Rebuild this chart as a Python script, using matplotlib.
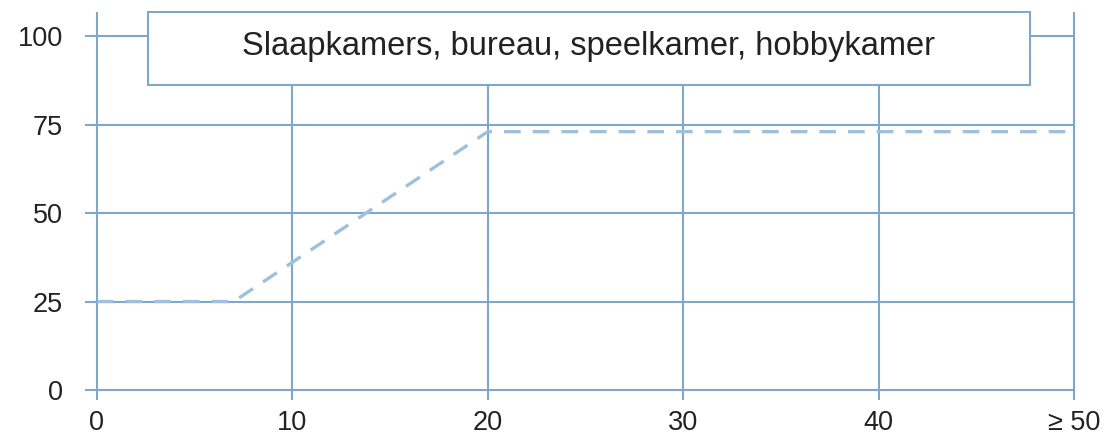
import matplotlib
matplotlib.use("Agg")
import matplotlib.pyplot as plt
from matplotlib.patches import Rectangle

# Data
x_vals = [0, 7, 20, 50]
y_vals = [25, 25, 73, 73]
x_ticks = [0, 10, 20, 30, 40, 50]
x_labels = ["0", "10", "20", "30", "40", "\u2265 50"]
y_ticks = [0, 25, 50, 75, 100]
y_labels = ["0", "25", "50", "75", "100"]
title = "Slaapkamers, bureau, speelkamer, hobbykamer"

grid_color = "#7ea7ca"
line_color = "#9fc0dd"
text_color = "#222222"

plt.rcParams["font.family"] = ["Liberation Sans", "DejaVu Sans"]

fig = plt.figure(figsize=(11.09, 4.40), dpi=100)
ax = fig.add_axes([0.0766, 0.0909, 0.8918, 0.8818])
ax.set_xlim(-0.614, 50)
ax.set_ylim(-2.82, 106.8)
for s in ax.spines.values():
    s.set_visible(False)

xmin, xmax = ax.get_xlim()
ymin, ymax = ax.get_ylim()
ax.hlines(y_ticks, xmin, xmax, colors=grid_color, linewidth=1.5, clip_on=False, zorder=1)
ax.vlines(x_ticks, ymin, ymax, colors=grid_color, linewidth=1.5, clip_on=False, zorder=1)

line, = ax.plot(x_vals, y_vals, color=line_color, linewidth=2.4, zorder=2, clip_on=False)
line.set_dashes((5.0, 3.6))

ax.set_xticks(x_ticks)
ax.set_xticklabels(x_labels)
ax.set_yticks(y_ticks)
ax.set_yticklabels(y_labels)
ax.tick_params(axis="both", length=0, labelsize=19.5, colors=text_color)
ax.tick_params(axis="y", pad=16)
ax.tick_params(axis="x", pad=7)

# Heading box
bx0, bx1 = 0.0637, 0.9555
by0, by1 = 0.8119, 1.0
ax.add_patch(Rectangle((bx0, by0), bx1 - bx0, by1 - by0, transform=ax.transAxes,
                       facecolor="white", edgecolor=grid_color, linewidth=1.5,
                       zorder=3, clip_on=False))
ax.text((bx0 + bx1) / 2, (by0 + by1) / 2 + 0.005, title, transform=ax.transAxes,
        ha="center", va="center", fontsize=23.5, color=text_color, zorder=4)

fig.savefig("out.png", dpi=100)
